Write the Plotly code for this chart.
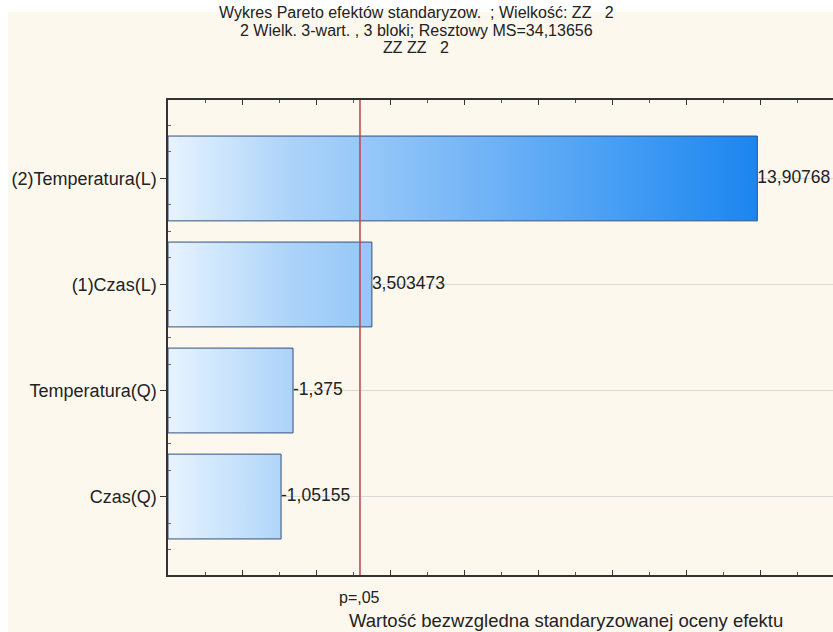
import plotly.graph_objects as go

# Effects (standardized), in plotting order from top to bottom
effects = ["(2)Temperatura(L)", "(1)Czas(L)", "Temperatura(Q)", "Czas(Q)"]
t_values = [13.90768, 3.503473, -1.375, -1.05155]
value_labels = ["13,90768", "3,503473", "-1,375", "-1,05155"]

p_critical = 3.182          # critical t for p = .05
p_label = "p=,05"

title_lines = [
    "Wykres Pareto efektów standaryzow.  ; Wielkość: ZZ   2",
    "2 Wielk. 3-wart. , 3 bloki; Resztowy MS=34,13656",
    "ZZ ZZ   2",
]
x_title = "Wartość bezwzgledna standaryzowanej oceny efektu"

x_min, x_max = -2.0, 15.95
bar_half = 0.4
font_family = "Liberation Sans, Arial, sans-serif"
text_color = "#222222"
cream = "#fcf8ee"

blue_scale = [
    [0.0, "#e8f3fe"],
    [0.1, "#cae4fc"],
    [0.21, "#acd3f9"],
    [0.35, "#94c6f8"],
    [0.55, "#6fb2f6"],
    [0.8, "#409af3"],
    [1.0, "#1c85ef"],
]

W, H = 833, 632
ml, mr, mt, mb = 168, 0, 100, 57
pw, ph = W - ml - mr, H - mt - mb


def px_x(p):
    return (p - ml) / pw


def px_y(p):
    return (H - mb - p) / ph


fig = go.Figure()

x_top = max(abs(t) for t in t_values)
for i, v in enumerate(t_values):
    mag = abs(v)
    xs = [x_min, mag, mag, x_min, x_min]
    ys = [i - bar_half, i - bar_half, i + bar_half, i + bar_half, i - bar_half]
    fig.add_trace(go.Scatter(
        x=xs, y=ys, mode="lines", fill="toself",
        fillgradient=dict(type="horizontal", colorscale=blue_scale,
                          start=x_min, stop=x_top),
        line=dict(color="#34507a", width=1),
        hoverinfo="skip", showlegend=False,
    ))

# value labels at the end of each bar
fig.add_trace(go.Scatter(
    x=[abs(v) for v in t_values], y=list(range(len(effects))),
    mode="text", text=value_labels, textposition="middle right",
    textfont=dict(family=font_family, size=17.5, color=text_color),
    hoverinfo="skip", showlegend=False, cliponaxis=False,
))

# significance line
fig.add_shape(type="line", xref="x", yref="y domain",
              x0=p_critical, x1=p_critical, y0=0, y1=1,
              line=dict(color="#c2404c", width=1.5), layer="above")

# cream panel behind everything
fig.add_shape(type="rect", xref="paper", yref="paper",
              x0=px_x(8), x1=px_x(840), y0=px_y(640), y1=px_y(12),
              fillcolor=cream, line=dict(width=0), layer="below")

fig.add_annotation(x=p_critical, xref="x", y=px_y(597), yref="paper",
                   text=p_label, showarrow=False, yanchor="middle",
                   font=dict(family=font_family, size=16, color=text_color))
fig.add_annotation(x=px_x(566), xref="paper", y=px_y(620), yref="paper",
                   text=x_title, showarrow=False, yanchor="middle",
                   font=dict(family=font_family, size=18.5, color=text_color))
for k, line in enumerate(title_lines):
    fig.add_annotation(x=px_x(416), xref="paper", y=px_y(13 + 17 * k), yref="paper",
                       text=line, showarrow=False, yanchor="middle",
                       font=dict(family=font_family, size=16, color=text_color))

fig.update_layout(
    width=W, height=H,
    margin=dict(l=ml, r=mr, t=mt, b=mb, pad=0),
    paper_bgcolor="white", plot_bgcolor="white",
    font=dict(family=font_family, size=18, color=text_color),
    xaxis=dict(range=[x_min, x_max], showgrid=False, zeroline=False,
               tickmode="linear", tick0=x_min, dtick=2, ticks="inside",
               ticklen=5, tickcolor="#333", showticklabels=False,
               showline=True, linecolor="#333", linewidth=1.5, mirror="ticks",
               minor=dict(dtick=1, tick0=x_min, ticks="inside", ticklen=3,
                          tickcolor="#555")),
    yaxis=dict(range=[len(effects) - 0.26, -0.74], zeroline=False,
               tickmode="array", tickvals=list(range(len(effects))),
               ticktext=effects, ticks="outside", ticklen=6, tickcolor="#333",
               tickfont=dict(size=18),
               showgrid=True, gridcolor="#dadada", gridwidth=1,
               showline=True, linecolor="#333", linewidth=1.5, mirror=False,
               minor=dict(tickvals=[i + d for i in range(len(effects))
                                    for d in (-0.5, -0.25, 0.25)] + [len(effects) - 0.5],
                          ticks="inside", ticklen=3, tickcolor="#666",
                          showgrid=False)),
    showlegend=False,
)

fig.write_html("out.html")
